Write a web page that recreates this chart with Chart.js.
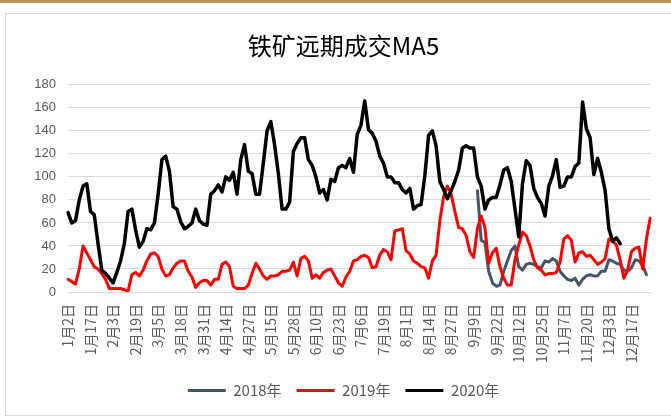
<!DOCTYPE html>
<html>
<head>
<meta charset="utf-8">
<script src="https://cdn.jsdelivr.net/npm/chart.js@4"></script>
<style>
  html, body { margin: 0; padding: 0; background: #fff; }
  #wrap { position: relative; width: 671px; height: 417px; overflow: hidden; }
  #topbar { position: absolute; left: 0; top: 0; width: 671px; height: 3px; background: #B8975C; }
  #frame { position: absolute; left: 5px; top: 13px; width: 700px; height: 401px; border: 1px solid #D9D9D9; }
  canvas { position: absolute; left: 0; top: 0; }
</style>
</head>
<body>
<div id="wrap">
  <div id="topbar"></div>
  <div id="frame"></div>
  <canvas id="myChart" width="671" height="417"></canvas>
</div>
<script>
const tickLabels = ['1月2日', '1月17日', '2月3日', '2月19日', '3月5日', '3月18日', '3月31日', '4月14日', '4月27日',
    '5月15日', '5月28日', '6月10日', '6月23日', '7月6日', '7月19日', '8月1日', '8月14日', '8月27日', '9月9日',
    '9月22日', '10月12日', '10月25日', '11月7日', '11月20日', '12月3日', '12月17日'];
const pointsPerLabel = 6;

// 2020
const series2020 = [69, 60, 62, 80, 92, 94, 70, 67, 42, 19, 16, 12, 8, 17, 27, 42, 70, 72, 54, 39,
    44, 55, 54, 60, 85, 115, 118, 105, 74, 72, 61, 55, 57, 60, 72, 62, 59, 58, 85, 88,
    93, 87, 100, 97, 104, 85, 115, 128, 105, 103, 85, 85, 112, 140, 148, 128, 103, 72, 72, 78,
    122, 129, 134, 134, 115, 110, 100, 86, 89, 80, 98, 96, 108, 110, 108, 116, 104, 137, 145, 166,
    141, 138, 131, 118, 112, 100, 100, 95, 95, 89, 86, 90, 72, 75, 76, 101, 136, 140, 127, 96,
    89, 81, 88, 96, 106, 125, 127, 125, 125, 100, 92, 72, 80, 82, 82, 93, 106, 108, 96, 72,
    48, 94, 114, 110, 90, 82, 77, 66, 92, 101, 115, 91, 92, 100, 100, 109, 112, 165, 142, 134,
    102, 116, 104, 88, 55, 44, 47, 42];

// 2019
const series2019 = [11, 9, 7, 20, 40, 34, 28, 22, 20, 16, 11, 3, 3, 3, 3, 2, 1, 15, 17, 14,
    19, 27, 33, 34, 31, 20, 14, 15, 21, 25, 27, 27, 18, 13, 4, 8, 10, 10, 6, 11,
    11, 24, 26, 22, 5, 3, 3, 3, 6, 16, 25, 20, 14, 11, 14, 14, 15, 18, 18, 19,
    26, 14, 29, 31, 27, 12, 15, 12, 17, 19, 20, 14, 8, 5, 13, 18, 27, 28, 31, 32,
    30, 21, 22, 32, 37, 35, 28, 53, 54, 55, 36, 33, 27, 25, 22, 21, 12, 27, 32, 62,
    83, 92, 85, 70, 56, 55, 49, 35, 30, 55, 66, 56, 25, 34, 38, 22, 12, 6, 6, 28,
    41, 52, 49, 40, 28, 21, 19, 15, 16, 16, 17, 26, 46, 49, 45, 26, 34, 35, 31, 32,
    28, 24, 26, 29, 46, 44, 41, 28, 12, 19, 35, 38, 39, 20, 46, 64];

// 2018 (starts part way through the year)
const start2018 = 109;
const series2018 = [88, 45, 43, 18, 8, 5, 6, 18, 27, 36, 40, 22, 19, 24, 25, 24, 22, 21, 27, 26,
    29, 27, 18, 14, 11, 10, 12, 6, 11, 14, 15, 14, 14, 18, 18, 28, 27, 25, 24, 19,
    18, 21, 28, 27, 23, 15];

const categories = series2019.map((_, i) => i % pointsPerLabel === 0 ? tickLabels[i / pointsPerLabel] : '');
const data2018 = categories.map((_, i) => (i >= start2018 && i - start2018 < series2018.length) ? series2018[i - start2018] : null);

const cjk = '"Noto Sans CJK SC", "Noto Sans", sans-serif';

const ctx = document.getElementById('myChart').getContext('2d');
const myChart = new Chart(ctx, {
    type: 'line',
    data: {
        labels: categories,
        datasets: [{
            label: '2018年',
            data: data2018,
            borderColor: '#44546A',
            backgroundColor: '#44546A',
            borderWidth: 3,
            order: 2
        }, {
            label: '2019年',
            data: series2019,
            borderColor: '#FF0000',
            backgroundColor: '#FF0000',
            borderWidth: 3,
            order: 1
        }, {
            label: '2020年',
            data: series2020,
            borderColor: '#000000',
            backgroundColor: '#000000',
            borderWidth: 3.5,
            order: 0
        }]
    },
    options: {
        responsive: false,
        animation: false,
        elements: {
            point: { radius: 0 },
            line: { tension: 0, borderJoinStyle: 'round', borderCapStyle: 'round' }
        },
        layout: { padding: { left: 28, right: 12, top: 31, bottom: 9 } },
        scales: {
            x: {
                grid: { display: false },
                border: { display: true, color: '#D9D9D9', width: 1 },
                ticks: {
                    autoSkip: false,
                    maxRotation: 90,
                    minRotation: 90,
                    padding: 4,
                    color: '#595959',
                    font: { family: cjk, size: 14 }
                },
                afterFit: (scale) => { scale.height = 76; }
            },
            y: {
                min: 0,
                max: 180,
                grid: { color: '#D9D9D9', lineWidth: 1, drawTicks: false },
                border: { display: false },
                ticks: {
                    stepSize: 20,
                    padding: 12,
                    color: '#595959',
                    font: { family: '"Liberation Sans", sans-serif', size: 13 }
                },
                afterFit: (scale) => { scale.width = 40; }
            }
        },
        plugins: {
            title: {
                display: true,
                text: '铁矿远期成交MA5',
                color: '#000000',
                font: { family: cjk, size: 24, weight: 'normal' },
                padding: { top: 0, bottom: 25 }
            },
            legend: {
                position: 'bottom',
                labels: {
                    boxWidth: 38,
                    boxHeight: 3,
                    padding: 15,
                    color: '#595959',
                    font: { family: cjk, size: 15 },
                    sort: (a, b) => a.datasetIndex - b.datasetIndex,
                    generateLabels: (chart) => Chart.defaults.plugins.legend.labels.generateLabels(chart)
                        .map(l => Object.assign(l, { lineWidth: 0, fillStyle: l.strokeStyle }))
                }
            },
            tooltip: { enabled: false }
        }
    }
});
</script>
</body>
</html>
